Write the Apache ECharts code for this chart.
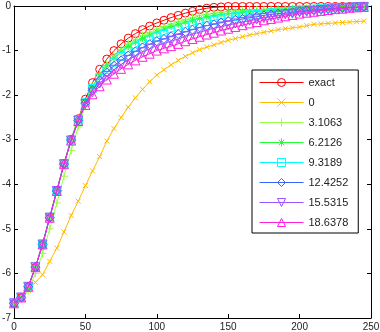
<!DOCTYPE html>
<html>
<head>
<meta charset="utf-8">
<script src="https://cdn.jsdelivr.net/npm/echarts@6/dist/echarts.min.js"></script>
<style>
  html, body { margin: 0; padding: 0; background: #fff; }
  #chart { width: 380px; height: 332px; }
</style>
</head>
<body>
<div id="chart"></div>
<script>
// x positions of the samples
const xs = [0, 5, 10, 15, 20, 25, 30, 35, 40, 45,
  50, 55, 60, 65, 70, 75, 80, 85, 90, 95,
  100, 105, 110, 115, 120, 125, 130, 135, 140, 145,
  150, 155, 160, 165, 170, 175, 180, 185, 190, 195,
  200, 205, 210, 215, 220, 225, 230, 235, 240, 245]

const names = ['exact', '0', '3.1063', '6.2126', '9.3189', '12.4252', '15.5315', '18.6378']
const colors = ['#ff0000', '#ffbb00', '#99ff44', '#22ff33', '#00ffff', '#3366ff', '#9955ff', '#ff22dd']

const exact = [-6.67, -6.54, -6.30, -5.86, -5.35, -4.74, -4.14, -3.53, -2.99, -2.53,
  -2.09, -1.72, -1.42, -1.19, -1.00, -0.85, -0.72, -0.62, -0.53, -0.45,
  -0.38, -0.32, -0.26, -0.21, -0.16, -0.12, -0.08, -0.05, -0.03, -0.02,
  -0.01, -0.01, -0.01, -0.01, -0.01, -0.01, -0.01, -0.01, -0.01, -0.01,
  -0.01, -0.01, -0.01, -0.01, -0.01, -0.01, -0.01, -0.01, -0.01, -0.01]
const s0 = [-6.67, -6.57, -6.38, -6.20, -6.03, -5.73, -5.43, -5.07, -4.70, -4.38,
  -4.03, -3.70, -3.38, -3.03, -2.75, -2.50, -2.27, -2.06, -1.87, -1.70,
  -1.55, -1.43, -1.32, -1.22, -1.13, -1.05, -0.98, -0.92, -0.87, -0.82,
  -0.77, -0.73, -0.69, -0.65, -0.62, -0.59, -0.56, -0.53, -0.51, -0.49,
  -0.47, -0.44, -0.41, -0.40, -0.39, -0.38, -0.37, -0.36, -0.35, -0.34]
const s1 = [-6.67, -6.57, -6.38, -6.00, -5.55, -5.00, -4.42, -3.82, -3.24, -2.71,
  -2.24, -1.84, -1.53, -1.29, -1.11, -0.97, -0.85, -0.75, -0.66, -0.59,
  -0.52, -0.46, -0.40, -0.35, -0.30, -0.26, -0.21, -0.18, -0.16, -0.14,
  -0.12, -0.11, -0.10, -0.09, -0.09, -0.08, -0.07, -0.07, -0.06, -0.05,
  -0.05, -0.04, -0.04, -0.03, -0.03, -0.02, -0.02, -0.02, -0.02, -0.02]
const s2 = [-6.67, -6.54, -6.30, -5.86, -5.35, -4.74, -4.14, -3.54, -3.00, -2.55,
  -2.13, -1.80, -1.54, -1.34, -1.17, -1.03, -0.91, -0.81, -0.73, -0.65,
  -0.58, -0.52, -0.46, -0.41, -0.36, -0.32, -0.28, -0.24, -0.21, -0.19,
  -0.17, -0.16, -0.14, -0.13, -0.12, -0.11, -0.10, -0.09, -0.08, -0.07,
  -0.06, -0.06, -0.05, -0.04, -0.04, -0.03, -0.03, -0.02, -0.02, -0.02]
const s3 = [-6.67, -6.54, -6.30, -5.86, -5.35, -4.74, -4.14, -3.54, -3.01, -2.56,
  -2.16, -1.85, -1.61, -1.42, -1.26, -1.13, -1.02, -0.92, -0.84, -0.76,
  -0.69, -0.64, -0.58, -0.53, -0.48, -0.43, -0.39, -0.35, -0.32, -0.29,
  -0.26, -0.24, -0.22, -0.20, -0.19, -0.17, -0.15, -0.13, -0.12, -0.11,
  -0.09, -0.08, -0.07, -0.06, -0.05, -0.04, -0.04, -0.03, -0.02, -0.02]
const s4 = [-6.67, -6.54, -6.30, -5.86, -5.35, -4.75, -4.15, -3.55, -3.01, -2.57,
  -2.18, -1.89, -1.67, -1.49, -1.34, -1.22, -1.11, -1.02, -0.93, -0.86,
  -0.79, -0.74, -0.68, -0.63, -0.58, -0.53, -0.48, -0.44, -0.41, -0.37,
  -0.34, -0.31, -0.29, -0.26, -0.24, -0.21, -0.19, -0.17, -0.16, -0.14,
  -0.12, -0.10, -0.09, -0.08, -0.06, -0.05, -0.04, -0.03, -0.03, -0.02]
const s5 = [-6.67, -6.54, -6.30, -5.86, -5.35, -4.75, -4.15, -3.55, -3.02, -2.57,
  -2.20, -1.94, -1.74, -1.57, -1.43, -1.31, -1.21, -1.12, -1.04, -0.96,
  -0.89, -0.84, -0.79, -0.74, -0.68, -0.63, -0.59, -0.54, -0.50, -0.46,
  -0.43, -0.39, -0.36, -0.33, -0.30, -0.27, -0.24, -0.22, -0.19, -0.17,
  -0.14, -0.13, -0.11, -0.09, -0.08, -0.06, -0.05, -0.04, -0.03, -0.02]
const s6 = [-6.67, -6.54, -6.30, -5.86, -5.35, -4.75, -4.15, -3.55, -3.02, -2.58,
  -2.22, -1.98, -1.80, -1.65, -1.52, -1.41, -1.31, -1.22, -1.14, -1.07,
  -1.00, -0.95, -0.90, -0.85, -0.79, -0.74, -0.69, -0.64, -0.60, -0.55,
  -0.51, -0.47, -0.43, -0.39, -0.36, -0.32, -0.29, -0.26, -0.23, -0.20,
  -0.17, -0.15, -0.13, -0.11, -0.09, -0.07, -0.06, -0.04, -0.03, -0.02]

const allSeries = [exact, s0, s1, s2, s3, s4, s5, s6]

// matlab-like hollow markers
const markers = [
  { path: 'path://M5,0A5,5,0,1,1,5,10A5,5,0,1,1,5,0Z', size: 8 },
  { path: 'path://M0,0L10,10M10,0L0,10', size: 5 },
  { path: 'path://M5,0V10M0,5H10', size: 8 },
  { path: 'path://M5,0V10M0,5H10M1.5,1.5L8.5,8.5M8.5,1.5L1.5,8.5', size: 7 },
  { path: 'path://M0,0H10V10H0Z', size: 8 },
  { path: 'path://M5,0L10,5L5,10L0,5Z', size: 9 },
  { path: 'path://M0,0H10L5,9Z', size: 9 },
  { path: 'path://M5,0L10,9H0Z', size: 9 }
]

let myChart = echarts.init(document.getElementById('chart'))

let series = allSeries.map((ys, i) => {
  return {
    name: names[i],
    type: 'line',
    data: ys.map((y, j) => [xs[j], y]),
    symbol: markers[i].path,
    symbolSize: markers[i].size,
    showAllSymbol: true,
    color: colors[i],
    lineStyle: { color: colors[i], width: 1 },
    itemStyle: { color: 'rgba(255,255,255,0)', borderColor: colors[i], borderWidth: 1 },
    emphasis: { disabled: true },
    z: 2 + i
  }
})

const axisText = { color: '#222', fontSize: 10, fontFamily: 'Liberation Sans, Arial, sans-serif' }

myChart.setOption({
  animation: false,
  backgroundColor: '#fff',
  grid: { left: 14, right: 9, top: 6, bottom: 14, containLabel: false, outerBoundsMode: 'none' },
  legend: {
    orient: 'vertical',
    left: 252,
    top: 70,
    data: names,
    itemWidth: 44,
    itemHeight: 10,
    itemGap: 9,
    padding: [7, 10, 5, 7],
    borderColor: '#000',
    borderWidth: 1,
    borderRadius: 0,
    backgroundColor: '#fff',
    lineStyle: { width: 1 },
    itemStyle: { borderWidth: 1 },
    textStyle: { fontSize: 11, color: '#222', fontFamily: 'Liberation Sans, Arial, sans-serif' }
  },
  xAxis: [
    {
      type: 'value', min: 0, max: 250, interval: 50, position: 'bottom',
      axisLine: { show: true, onZero: false, lineStyle: { color: '#000', width: 1 } },
      axisTick: { show: true, inside: true, length: 4, lineStyle: { color: '#000' } },
      axisLabel: Object.assign({ margin: 4 }, axisText),
      splitLine: { show: false }
    },
    {
      type: 'value', min: 0, max: 250, interval: 50, position: 'top',
      axisLine: { show: true, onZero: false, lineStyle: { color: '#000', width: 1 } },
      axisTick: { show: true, inside: true, length: 4, lineStyle: { color: '#000' } },
      axisLabel: { show: false },
      splitLine: { show: false }
    }
  ],
  yAxis: [
    {
      type: 'value', min: -7, max: 0, interval: 1, position: 'left',
      axisLine: { show: true, onZero: false, lineStyle: { color: '#000', width: 1 } },
      axisTick: { show: true, inside: true, length: 4, lineStyle: { color: '#000' } },
      axisLabel: Object.assign({ margin: 3 }, axisText),
      splitLine: { show: false }
    },
    {
      type: 'value', min: -7, max: 0, interval: 1, position: 'right',
      axisLine: { show: true, onZero: false, lineStyle: { color: '#000', width: 1 } },
      axisTick: { show: true, inside: true, length: 4, lineStyle: { color: '#000' } },
      axisLabel: { show: false },
      splitLine: { show: false }
    }
  ],
  series: series
})
</script>
</body>
</html>
